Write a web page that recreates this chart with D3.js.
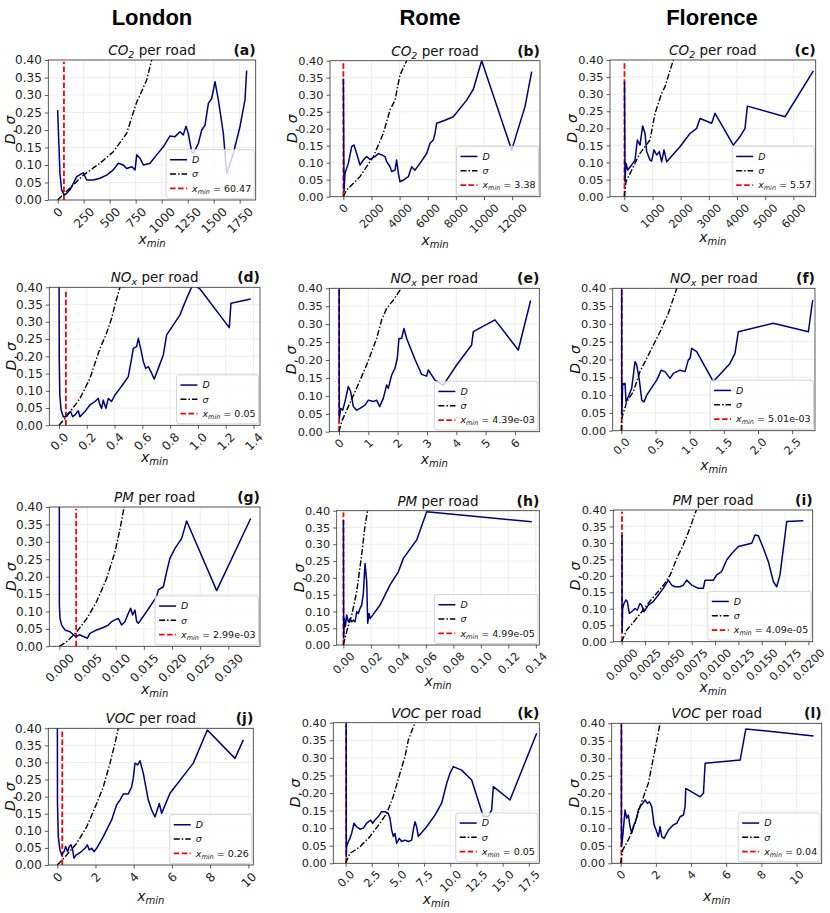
<!DOCTYPE html>
<html>
<head>
<meta charset="utf-8">
<script src="https://cdn.jsdelivr.net/npm/d3@7"></script>
<style>
  body { margin: 0; background: #fff; }
  svg { font-family: "DejaVu Sans", sans-serif; }
</style>
</head>
<body>
<div id="chart"></div>
<script>
// ---- data ----
const cities = ['London', 'Rome', 'Florence'];
const pollutants = [['CO', '2'], ['NO', 'x'], ['PM', ''], ['VOC', '']];
const panelLetters = ['a', 'b', 'c', 'd', 'e', 'f', 'g', 'h', 'i', 'j', 'k', 'l'];
const xminValues = [60.47, 3.38, 5.57, 0.05, 4.39e-3, 5.01e-3, 2.99e-3, 4.99e-5, 4.09e-5, 0.26, 0.05, 0.04];
const xminLabels = ['60.47', '3.38', '5.57', '0.05', '4.39e-03', '5.01e-03', '2.99e-03', '4.99e-05', '4.09e-05', '0.26', '0.05', '0.04'];
const yTicks = [0, 0.05, 0.10, 0.15, 0.20, 0.25, 0.30, 0.35, 0.40];

const xTicks = [
  [0, 250, 500, 750, 1000, 1250, 1500, 1750],
  [0, 2000, 4000, 6000, 8000, 10000, 12000],
  [0, 1000, 2000, 3000, 4000, 5000, 6000],
  [0, 0.2, 0.4, 0.6, 0.8, 1.0, 1.2, 1.4],
  [0, 1, 2, 3, 4, 5, 6],
  [0, 0.5, 1.0, 1.5, 2.0, 2.5],
  [0, 0.005, 0.010, 0.015, 0.020, 0.025, 0.030],
  [0, 0.02, 0.04, 0.06, 0.08, 0.10, 0.12, 0.14],
  [0, 0.0025, 0.0050, 0.0075, 0.0100, 0.0125, 0.0150, 0.0175, 0.0200],
  [0, 2, 4, 6, 8, 10],
  [0, 2.5, 5.0, 7.5, 10.0, 12.5, 15.0, 17.5],
  [0, 2, 4, 6, 8, 10]
];
const xTickFormats = ['d', 'd', 'd', '.1f', 'd', '.1f', '.3f', '.2f', '.4f', 'd', '.1f', 'd'];

// D (KS distance) and sigma per panel, [xmin, value]
const D_a = [[0,0.257],[22,0.076],[38,0.029],[64,0.014],[87,0.019],[119,0.029],[183,0.067],[247,0.078],[279,0.057],[343,0.057],[407,0.062],[471,0.071],[535,0.086],[583,0.105],[631,0.10],[663,0.09],[712,0.095],[744,0.086],[760,0.129],[792,0.119],[824,0.10],[888,0.105],[952,0.129],[1016,0.152],[1080,0.183],[1128,0.181],[1176,0.195],[1208,0.186],[1234,0.211],[1256,0.19],[1288,0.138],[1304,0.133],[1353,0.162],[1385,0.2],[1417,0.214],[1449,0.276],[1481,0.29],[1513,0.338],[1545,0.286],[1593,0.19],[1625,0.076],[1689,0.133],[1753,0.21],[1801,0.286],[1817,0.37]];
const sigma_a = [[0,0],[247,0.071],[407,0.105],[535,0.138],[663,0.19],[727,0.25],[760,0.28],[792,0.30],[856,0.343],[904,0.40],[930,0.43]];

const D_b = [[3.38,0.348],[47,0.015],[118,0.069],[355,0.098],[592,0.147],[758,0.152],[948,0.127],[1185,0.093],[1422,0.108],[1659,0.118],[1896,0.11],[2251,0.118],[2488,0.127],[2725,0.123],[2962,0.118],[3081,0.103],[3318,0.088],[3436,0.074],[3673,0.078],[3791,0.108],[3910,0.069],[4028,0.044],[4265,0.049],[4621,0.059],[4858,0.088],[5095,0.078],[5450,0.098],[5924,0.127],[6161,0.157],[6398,0.167],[6517,0.186],[6635,0.216],[7227,0.225],[7820,0.235],[8768,0.284],[9242,0.316],[9834,0.40],[11967,0.137],[12915,0.265],[13389,0.368]];
const sigma_b = [[0,0],[237,0.02],[1185,0.059],[2133,0.118],[2844,0.186],[3318,0.255],[3673,0.284],[4028,0.358],[4502,0.40],[4700,0.43]];

const D_c = [[5.57,0.337],[24,0.044],[59,0.098],[118,0.078],[260,0.093],[379,0.107],[462,0.166],[556,0.151],[651,0.207],[734,0.185],[793,0.132],[911,0.107],[970,0.104],[1053,0.137],[1148,0.122],[1243,0.132],[1325,0.102],[1408,0.137],[1503,0.102],[1976,0.146],[2154,0.166],[2331,0.185],[2568,0.2],[2686,0.229],[3101,0.215],[3219,0.244],[3870,0.151],[4107,0.176],[4284,0.2],[4367,0.265],[5704,0.234],[6710,0.368]];
const sigma_c = [[0,0],[59,0.044],[320,0.088],[556,0.127],[911,0.166],[1089,0.244],[1325,0.302],[1444,0.322],[1740,0.40],[1850,0.43]];

const D_d = [[0,0.6],[0.002,0.2],[0.006,0.09],[0.015,0.045],[0.031,0.025],[0.048,0.025],[0.067,0.035],[0.084,0.04],[0.098,0.025],[0.115,0.03],[0.139,0.042],[0.151,0.025],[0.187,0.04],[0.223,0.059],[0.259,0.069],[0.283,0.078],[0.295,0.059],[0.307,0.049],[0.319,0.073],[0.338,0.049],[0.355,0.078],[0.379,0.069],[0.403,0.088],[0.439,0.107],[0.475,0.127],[0.499,0.141],[0.523,0.194],[0.535,0.223],[0.559,0.228],[0.571,0.252],[0.588,0.223],[0.607,0.185],[0.624,0.165],[0.643,0.17],[0.667,0.151],[0.686,0.134],[0.715,0.165],[0.751,0.204],[0.775,0.262],[0.823,0.291],[0.871,0.32],[0.919,0.368],[0.962,0.407],[0.991,0.402],[1.015,0.395],[1.226,0.283],[1.238,0.354],[1.380,0.366]];
const sigma_d = [[0,0],[0.055,0.025],[0.151,0.078],[0.223,0.136],[0.295,0.223],[0.338,0.262],[0.379,0.31],[0.403,0.349],[0.439,0.40],[0.46,0.43]];

const D_e = [[0.0044,0.45],[0.0044,0.2],[0.011,0.037],[0.057,0.065],[0.125,0.06],[0.205,0.084],[0.318,0.126],[0.398,0.112],[0.489,0.07],[0.602,0.06],[0.716,0.065],[0.886,0.074],[1.0,0.088],[1.17,0.084],[1.284,0.088],[1.386,0.07],[1.511,0.093],[1.625,0.13],[1.682,0.121],[1.795,0.158],[1.909,0.177],[1.989,0.205],[2.045,0.26],[2.136,0.26],[2.216,0.288],[2.307,0.26],[2.6,0.2],[2.818,0.16],[2.989,0.155],[3.045,0.172],[3.273,0.144],[3.557,0.13],[4.011,0.186],[4.523,0.242],[4.580,0.279],[5.318,0.312],[6.114,0.228],[6.534,0.366]];
const sigma_e = [[0,0],[0.09,0.028],[0.318,0.07],[0.6,0.121],[0.943,0.186],[1.284,0.26],[1.455,0.312],[1.625,0.344],[1.852,0.367],[2.08,0.395],[2.2,0.42]];

const D_f = [[0.005,0.45],[0.005,0.2],[0.006,0.044],[0.0195,0.133],[0.039,0.13],[0.054,0.133],[0.068,0.081],[0.102,0.096],[0.151,0.119],[0.2,0.194],[0.224,0.185],[0.263,0.142],[0.298,0.086],[0.332,0.081],[0.371,0.10],[0.42,0.114],[0.468,0.128],[0.517,0.142],[0.541,0.152],[0.58,0.17],[0.639,0.166],[0.712,0.147],[0.761,0.161],[0.859,0.17],[0.932,0.166],[0.98,0.199],[1.005,0.203],[1.029,0.231],[1.102,0.222],[1.346,0.138],[1.59,0.189],[1.663,0.217],[1.712,0.278],[2.224,0.302],[2.737,0.278],[2.8,0.367]];
const sigma_f = [[0,0],[0.005,0.035],[0.078,0.081],[0.176,0.11],[0.273,0.166],[0.42,0.222],[0.566,0.278],[0.688,0.33],[0.81,0.40],[0.84,0.43]];

const D_g = [[0,0.6],[0.00001,0.119],[0.00012,0.08],[0.00041,0.061],[0.001,0.047],[0.0019,0.042],[0.00249,0.033],[0.00296,0.028],[0.00355,0.033],[0.00426,0.028],[0.00497,0.023],[0.00544,0.037],[0.00663,0.047],[0.00781,0.054],[0.0087,0.061],[0.00929,0.071],[0.00988,0.076],[0.01047,0.08],[0.01107,0.061],[0.01166,0.071],[0.01225,0.095],[0.01266,0.109],[0.01302,0.09],[0.01343,0.104],[0.01373,0.071],[0.01402,0.066],[0.0155,0.10],[0.01728,0.143],[0.01757,0.162],[0.01846,0.171],[0.01905,0.214],[0.01964,0.253],[0.02053,0.281],[0.02172,0.31],[0.0226,0.36],[0.02793,0.16],[0.03396,0.367]];
const sigma_g = [[0,0],[0.0013,0.013],[0.0031,0.042],[0.0049,0.08],[0.0066,0.128],[0.0084,0.195],[0.0099,0.272],[0.0108,0.339],[0.0115,0.40],[0.0118,0.43]];

const D_h = [[0.00005,0.372],[0.00024,0.02],[0.00073,0.079],[0.00145,0.055],[0.00242,0.089],[0.00364,0.069],[0.00485,0.079],[0.00606,0.069],[0.00727,0.074],[0.00848,0.069],[0.0097,0.099],[0.0109,0.094],[0.0121,0.109],[0.0133,0.119],[0.01455,0.154],[0.01576,0.243],[0.01697,0.189],[0.0177,0.065],[0.01867,0.094],[0.0194,0.079],[0.02133,0.089],[0.02667,0.119],[0.03394,0.179],[0.04,0.218],[0.04364,0.258],[0.05333,0.313],[0.06061,0.397],[0.137,0.367]];
const sigma_h = [[0,0],[0.0024,0.04],[0.0061,0.089],[0.0097,0.159],[0.0133,0.268],[0.0158,0.357],[0.0175,0.397],[0.018,0.42]];

const D_i = [[0.00004,0.324],[0.00005,0.03],[0.000107,0.101],[0.00025,0.116],[0.000464,0.127],[0.000607,0.122],[0.000821,0.086],[0.00107,0.091],[0.00143,0.101],[0.00168,0.096],[0.00196,0.116],[0.00214,0.111],[0.00239,0.091],[0.00286,0.111],[0.00339,0.122],[0.00393,0.142],[0.00446,0.162],[0.005,0.187],[0.00536,0.172],[0.00571,0.167],[0.00625,0.167],[0.00661,0.172],[0.00696,0.187],[0.0075,0.172],[0.00821,0.162],[0.00875,0.162],[0.00893,0.187],[0.00982,0.187],[0.01018,0.203],[0.01071,0.213],[0.01125,0.248],[0.01179,0.268],[0.0125,0.289],[0.01393,0.299],[0.01429,0.324],[0.01464,0.322],[0.01518,0.284],[0.01571,0.243],[0.01625,0.182],[0.01661,0.167],[0.01696,0.203],[0.01768,0.365],[0.01946,0.367]];
const sigma_i = [[0,0],[0.00054,0.035],[0.0016,0.071],[0.003,0.122],[0.0045,0.172],[0.0052,0.203],[0.0059,0.253],[0.0066,0.294],[0.0073,0.344],[0.008,0.40],[0.0083,0.43]];

const D_j = [[0,0.6],[0.01,0.18],[0.052,0.083],[0.14,0.044],[0.227,0.029],[0.349,0.039],[0.436,0.054],[0.541,0.039],[0.628,0.054],[0.716,0.059],[0.803,0.044],[0.873,0.02],[0.977,0.029],[1.187,0.036],[1.449,0.049],[1.571,0.059],[1.675,0.044],[1.798,0.049],[1.92,0.039],[2.059,0.049],[2.408,0.083],[2.845,0.132],[3.106,0.176],[3.281,0.19],[3.455,0.208],[3.717,0.208],[3.892,0.229],[3.979,0.254],[4.066,0.298],[4.206,0.293],[4.328,0.305],[4.503,0.268],[4.764,0.19],[4.939,0.161],[5.113,0.141],[5.201,0.156],[5.34,0.18],[5.462,0.151],[5.899,0.21],[7.12,0.298],[7.853,0.395],[9.302,0.312],[9.738,0.366]];
const sigma_j = [[0,0],[0.49,0.029],[1.01,0.063],[1.54,0.112],[2.06,0.18],[2.41,0.229],[2.76,0.298],[3.02,0.356],[3.19,0.40],[3.3,0.43]];

const D_k = [[0.05,0.45],[0.06,0.019],[0.096,0.047],[0.255,0.062],[0.414,0.071],[0.573,0.085],[0.796,0.114],[1.051,0.104],[1.369,0.097],[1.688,0.10],[2.006,0.114],[2.166,0.118],[2.389,0.123],[2.58,0.114],[2.803,0.123],[3.121,0.133],[3.439,0.147],[3.758,0.147],[4.076,0.142],[4.236,0.128],[4.395,0.095],[4.554,0.076],[4.713,0.085],[4.873,0.057],[5.127,0.071],[5.35,0.062],[5.669,0.066],[5.987,0.062],[6.306,0.066],[6.465,0.095],[6.624,0.118],[6.783,0.104],[6.943,0.076],[7.739,0.104],[8.535,0.137],[9.172,0.171],[9.65,0.227],[9.968,0.256],[10.287,0.275],[11.08,0.265],[12.04,0.237],[13.15,0.133],[13.63,0.133],[13.95,0.152],[14.11,0.218],[15.7,0.18],[18.25,0.37]];
const sigma_k = [[0,0],[0.41,0.028],[1.37,0.047],[2.32,0.076],[3.28,0.114],[3.92,0.142],[4.55,0.19],[5.19,0.256],[5.67,0.303],[5.99,0.351],[6.62,0.40],[6.9,0.43]];

const D_l = [[0.04,0.45],[0.04,0.2],[0.045,0.048],[0.114,0.076],[0.247,0.152],[0.342,0.129],[0.436,0.138],[0.531,0.105],[0.626,0.086],[0.721,0.105],[0.873,0.124],[1.006,0.152],[1.101,0.162],[1.252,0.171],[1.385,0.181],[1.518,0.171],[1.632,0.176],[1.765,0.162],[1.898,0.11],[2.011,0.095],[2.144,0.076],[2.239,0.105],[2.334,0.076],[2.467,0.071],[2.714,0.095],[2.998,0.11],[3.188,0.114],[3.378,0.133],[3.567,0.138],[3.662,0.162],[3.7,0.214],[4.516,0.19],[4.706,0.2],[4.801,0.286],[6.793,0.295],[7.116,0.384],[10.968,0.364]];
const sigma_l = [[0,0],[0.114,0.038],[0.436,0.067],[0.816,0.114],[1.1,0.162],[1.575,0.229],[1.95,0.324],[2.24,0.40],[2.35,0.43]];

const dSeries = [D_a, D_b, D_c, D_d, D_e, D_f, D_g, D_h, D_i, D_j, D_k, D_l];
const sigmaSeries = [sigma_a, sigma_b, sigma_c, sigma_d, sigma_e, sigma_f, sigma_g, sigma_h, sigma_i, sigma_j, sigma_k, sigma_l];

// ---- layout: each panel was a separate matplotlib axes, so boxes differ a little ----
const layout = [
  {left: 48.3, top: 60, right: 255.7, bottom: 200, xDomain: [-90, 1904], xLabelY: 244},
  {left: 330, top: 60.7, right: 540, bottom: 196.7, xDomain: [-948, 13981], xLabelY: 245},
  {left: 610, top: 60, right: 815.7, bottom: 196.7, xDomain: [-509, 6793], xLabelY: 242},
  {left: 49.3, top: 287.3, right: 260, bottom: 425.3, xDomain: [-0.0696, 1.447], xLabelY: 462},
  {left: 329.3, top: 288.3, right: 539.3, bottom: 431.7, xDomain: [-0.33, 6.83], xLabelY: 464},
  {left: 612.7, top: 288.3, right: 815, bottom: 430.7, xDomain: [-0.127, 2.834], xLabelY: 470},
  {left: 49.3, top: 507, right: 260, bottom: 646.3, xDomain: [-0.00178, 0.03562], xLabelY: 694},
  {left: 336.7, top: 510.7, right: 539.3, bottom: 645, xDomain: [-0.00485, 0.1425], xLabelY: 686},
  {left: 613.3, top: 510, right: 812.7, bottom: 641.7, xDomain: [-0.000893, 0.02046], xLabelY: 692},
  {left: 48.3, top: 728.3, right: 253.3, bottom: 865, xDomain: [-0.471, 10.26], xLabelY: 901},
  {left: 333.3, top: 722.7, right: 539.3, bottom: 863.3, xDomain: [-1.178, 18.5], xLabelY: 904},
  {left: 611.7, top: 723.3, right: 821.7, bottom: 863.3, xDomain: [-0.512, 11.43], xLabelY: 901}
];
const cityTitleX = [152, 430, 712];
const colors = {D: '#000080', sigma: '#000', xmin: '#ff0000', grid: '#ebebeb', spine: '#333', text: '#222'};

const svg = d3.select('#chart').append('svg')
  .attr('width', 830)
  .attr('height', 913);

// column titles
svg.selectAll('.city')
  .data(cities)
  .join('text')
    .attr('class', 'city')
    .attr('x', (d, i) => cityTitleX[i])
    .attr('y', 25)
    .attr('text-anchor', 'middle')
    .attr('font-family', '"Liberation Sans", Arial, sans-serif')
    .attr('font-weight', 'bold')
    .attr('font-size', 22)
    .text(d => d);

layout.forEach((L, k) => drawPanel(L, k));

function drawPanel(L, k) {
  const col = k % 3, row = Math.floor(k / 3);
  const fs = col === 0 ? 12 : 11.3;
  const w = L.right - L.left, h = L.bottom - L.top;

  const x = d3.scaleLinear().domain(L.xDomain).range([0, w]);
  const y = d3.scaleLinear().domain([0, 0.4]).range([h, 0]);

  const g = svg.append('g').attr('transform', `translate(${L.left},${L.top})`);

  // grid
  g.append('g').selectAll('line.gx')
    .data(xTicks[k])
    .join('line')
      .attr('x1', d => x(d)).attr('x2', d => x(d))
      .attr('y1', 0).attr('y2', h)
      .attr('stroke', colors.grid).attr('stroke-width', 0.8);
  g.append('g').selectAll('line.gy')
    .data(yTicks)
    .join('line')
      .attr('x1', 0).attr('x2', w)
      .attr('y1', d => y(d)).attr('y2', d => y(d))
      .attr('stroke', colors.grid).attr('stroke-width', 0.8);

  // clipping for the curves
  const clipId = `clip-${panelLetters[k]}`;
  g.append('clipPath').attr('id', clipId)
    .append('rect').attr('width', w).attr('height', h);
  const plot = g.append('g').attr('clip-path', `url(#${clipId})`);

  const line = d3.line().x(d => x(d[0])).y(d => y(d[1]));

  // x_min marker first, curves go on top
  plot.append('line')
    .attr('x1', x(xminValues[k])).attr('x2', x(xminValues[k]))
    .attr('y1', y(0)).attr('y2', y(0.395))
    .attr('stroke', colors.xmin).attr('stroke-width', 1.8)
    .attr('stroke-dasharray', '5.5,2.5');

  plot.append('path')
    .datum(dSeries[k])
    .attr('d', line)
    .attr('fill', 'none')
    .attr('stroke', colors.D)
    .attr('stroke-width', 1.5)
    .attr('stroke-linejoin', 'round');

  plot.append('path')
    .datum(sigmaSeries[k])
    .attr('d', line)
    .attr('fill', 'none')
    .attr('stroke', colors.sigma)
    .attr('stroke-width', 1.4)
    .attr('stroke-dasharray', '6,2,1.5,2');

  // axes
  const xAxis = d3.axisBottom(x)
    .tickValues(xTicks[k])
    .tickFormat(d3.format(xTickFormats[k]))
    .tickSize(3.5)
    .tickSizeOuter(0);
  const xg = g.append('g')
    .attr('transform', `translate(0,${h})`)
    .call(xAxis)
    .attr('font-size', fs)
    .attr('font-family', '"DejaVu Sans", sans-serif')
    .attr('color', colors.text);
  xg.select('.domain').remove();
  xg.selectAll('.tick line').attr('stroke', colors.spine).attr('stroke-width', 0.8);
  xg.selectAll('.tick text').each(function() {
    const t = d3.select(this);
    t.attr('y', null).attr('dy', null);
    const tw = this.getComputedTextLength();
    const boxH = (tw + fs * 0.75) * Math.SQRT1_2;
    t.attr('text-anchor', 'middle')
      .attr('dominant-baseline', 'central')
      .attr('transform', `translate(0,${3.5 + 3 + boxH / 2}) rotate(-45)`);
  });

  const yAxis = d3.axisLeft(y)
    .tickValues(yTicks)
    .tickFormat(d3.format('.2f'))
    .tickSize(3.5)
    .tickSizeOuter(0);
  const yg = g.append('g')
    .call(yAxis)
    .attr('font-size', fs)
    .attr('font-family', '"DejaVu Sans", sans-serif')
    .attr('color', colors.text);
  yg.select('.domain').remove();
  yg.selectAll('.tick line').attr('stroke', colors.spine).attr('stroke-width', 0.8);

  // frame
  g.append('rect')
    .attr('width', w).attr('height', h)
    .attr('fill', 'none')
    .attr('stroke', colors.spine)
    .attr('stroke-width', 0.8);

  // title: pollutant in math italic + " per road"
  const [chem, sub] = pollutants[row];
  const title = g.append('text')
    .attr('x', w / 2).attr('y', -5)
    .attr('text-anchor', 'middle')
    .attr('font-size', 13.5)
    .attr('fill', '#111');
  title.append('tspan').attr('font-style', 'italic').text(chem);
  if (sub) {
    title.append('tspan').attr('font-style', 'italic').attr('font-size', 9.5).attr('dy', 3).text(sub);
    title.append('tspan').attr('dy', -3).text(' per road');
  } else {
    title.append('tspan').text(' per road');
  }

  g.append('text')
    .attr('x', w).attr('y', -5)
    .attr('text-anchor', 'end')
    .attr('font-size', 14)
    .attr('font-weight', 'bold')
    .attr('fill', '#111')
    .text(`(${panelLetters[k]})`);

  // y label
  const yl = g.append('text')
    .attr('transform', `translate(${-33},${h / 2}) rotate(-90)`)
    .attr('text-anchor', 'middle')
    .attr('font-size', 14)
    .attr('fill', '#111');
  yl.append('tspan').attr('font-style', 'italic').text('D');
  yl.append('tspan').text(', ');
  yl.append('tspan').attr('font-style', 'italic').text('σ');

  // x label
  const xl = svg.append('text')
    .attr('x', (L.left + L.right) / 2)
    .attr('y', L.xLabelY)
    .attr('text-anchor', 'middle')
    .attr('font-size', 14)
    .attr('fill', '#111');
  xl.append('tspan').attr('font-style', 'italic').text('x');
  xl.append('tspan').attr('font-style', 'italic').attr('font-size', 10).attr('dy', 3).text('min');

  // legend, lower right
  const lfs = 9.5, rowH = 14.3, pad = 3, handleLen = 17, gap = 5;
  const lg = g.append('g');
  const frame = lg.append('rect')
    .attr('rx', 2.5)
    .attr('fill', 'rgba(255,255,255,0.8)')
    .attr('stroke', '#ccc')
    .attr('stroke-width', 0.8);
  const entries = [
    {stroke: colors.D, dash: null, width: 1.5},
    {stroke: colors.sigma, dash: '6,2,1.5,2', width: 1.5},
    {stroke: colors.xmin, dash: '5.5,2.5', width: 1.8}
  ];
  let maxW = 0;
  entries.forEach((e, i) => {
    const cy = pad + rowH * i + rowH / 2;
    lg.append('line')
      .attr('x1', pad + 1).attr('x2', pad + 1 + handleLen)
      .attr('y1', cy).attr('y2', cy)
      .attr('stroke', e.stroke).attr('stroke-width', e.width)
      .attr('stroke-dasharray', e.dash);
    const t = lg.append('text')
      .attr('x', pad + 1 + handleLen + gap)
      .attr('y', cy + lfs * 0.35)
      .attr('font-size', lfs)
      .attr('fill', '#111');
    if (i === 0) t.append('tspan').attr('font-style', 'italic').text('D');
    if (i === 1) t.append('tspan').attr('font-style', 'italic').text('σ');
    if (i === 2) {
      t.append('tspan').attr('font-style', 'italic').text('x');
      t.append('tspan').attr('font-style', 'italic').attr('font-size', 6.5).attr('dy', 2).text('min');
      t.append('tspan').attr('dy', -2).text(` = ${xminLabels[k]}`);
    }
    maxW = Math.max(maxW, t.node().getComputedTextLength());
  });
  const lw = pad + 1 + handleLen + gap + maxW + pad;
  const lh = pad * 2 + rowH * 3;
  frame.attr('width', lw).attr('height', lh);
  lg.attr('transform', `translate(${w - lw - 1.5},${h - lh - 1.5})`);
}
</script>
</body>
</html>
